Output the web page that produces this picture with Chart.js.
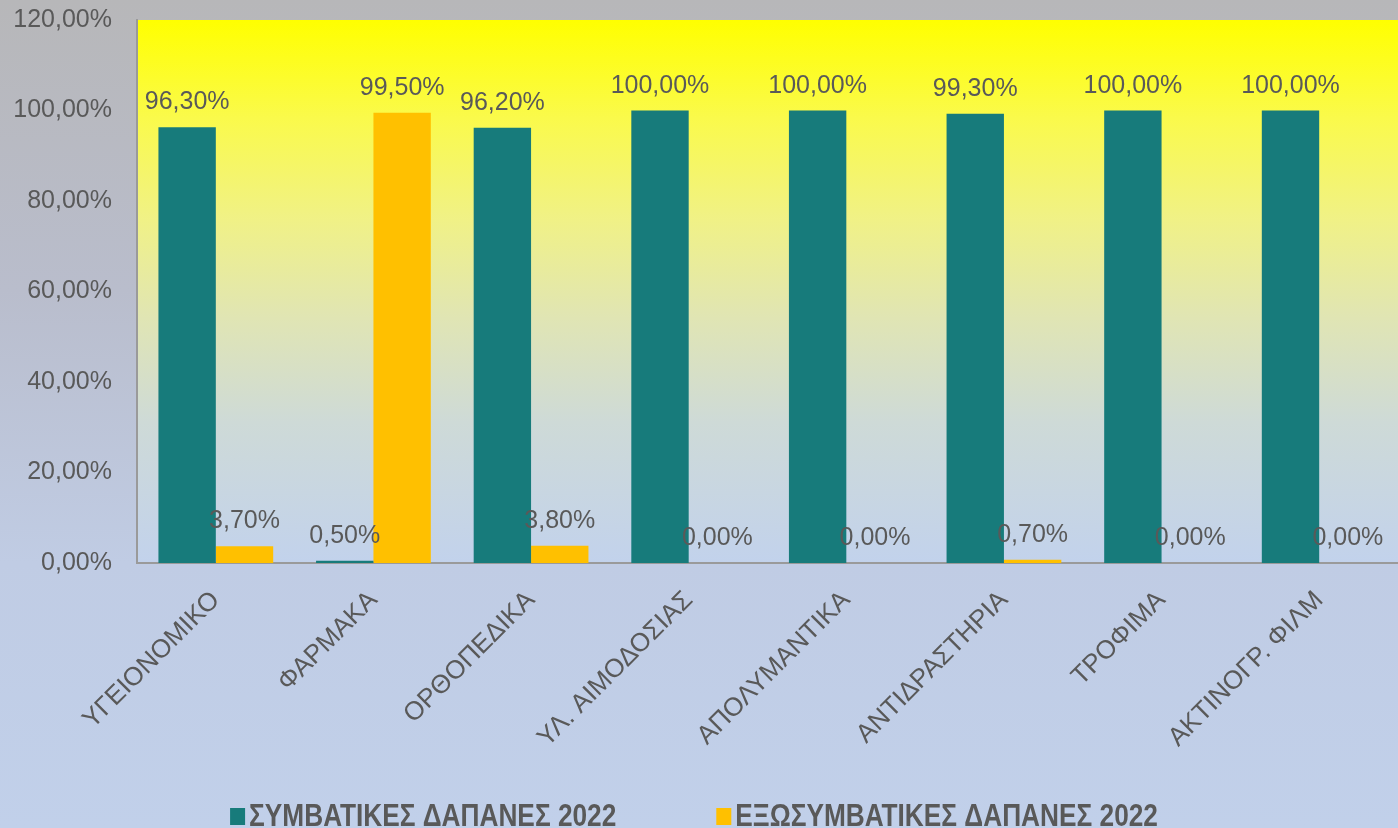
<!DOCTYPE html>
<html>
<head>
<meta charset="utf-8">
<script src="https://cdn.jsdelivr.net/npm/chart.js@4.4.1/dist/chart.umd.min.js"></script>
<style>
  html, body { margin: 0; padding: 0; width: 1398px; height: 828px; overflow: hidden; background: #c1d0ea; }
  #wrap { position: relative; width: 1398px; height: 828px; }
</style>
</head>
<body>
<div id="wrap"><canvas id="c" width="1398" height="828"></canvas></div>
<script>
const categories = ['ΥΓΕΙΟΝΟΜΙΚΟ', 'ΦΑΡΜΑΚΑ', 'ΟΡΘΟΠΕΔΙΚΑ', 'ΥΛ. ΑΙΜΟΔΟΣΙΑΣ', 'ΑΠΟΛΥΜΑΝΤΙΚΑ', 'ΑΝΤΙΔΡΑΣΤΗΡΙΑ', 'ΤΡΟΦΙΜΑ', 'ΑΚΤΙΝΟΓΡ. ΦΙΛΜ'];
const seriesNames = ['ΣΥΜΒΑΤΙΚΕΣ ΔΑΠΑΝΕΣ 2022', 'ΕΞΩΣΥΜΒΑΤΙΚΕΣ ΔΑΠΑΝΕΣ 2022'];
const contractValues = [96.3, 0.5, 96.2, 100, 100, 99.3, 100, 100];
const nonContractValues = [3.7, 99.5, 3.8, 0, 0, 0.7, 0, 0];
const yTicks = [0, 20, 40, 60, 80, 100, 120];

const TEXT = '#595959';
const FONT = "'Liberation Sans', Arial, sans-serif";
const fmt = v => v.toFixed(2).replace('.', ',') + '%';

const bgPlugin = {
  id: 'bg',
  beforeDraw(chart) {
    const ctx = chart.ctx, w = chart.width, h = chart.height;
    ctx.save();
    const g = ctx.createLinearGradient(0, 0, 0, h);
    g.addColorStop(0, '#b7b7b9');
    g.addColorStop(0.35, '#b9bdcc');
    g.addColorStop(0.68, '#c0cce4');
    g.addColorStop(1, '#c1d0ea');
    ctx.fillStyle = g;
    ctx.fillRect(0, 0, w, h);
    const a = chart.chartArea;
    const g2 = ctx.createLinearGradient(0, a.top, 0, a.bottom);
    g2.addColorStop(0, 'rgb(255,255,0)');
    g2.addColorStop(0.18, 'rgb(250,250,75)');
    g2.addColorStop(0.37, 'rgb(240,241,135)');
    g2.addColorStop(0.55, 'rgb(224,229,180)');
    g2.addColorStop(0.74, 'rgb(206,218,215)');
    g2.addColorStop(1, 'rgb(194,210,236)');
    ctx.fillStyle = g2;
    ctx.fillRect(a.left, a.top, a.right - a.left, a.bottom - a.top);
    ctx.restore();
  }
};

const labelPlugin = {
  id: 'vlabels',
  afterDatasetsDraw(chart) {
    const ctx = chart.ctx;
    ctx.save();
    ctx.font = '25px ' + FONT;
    ctx.fillStyle = TEXT;
    ctx.textAlign = 'center';
    ctx.textBaseline = 'alphabetic';
    chart.data.datasets.forEach((ds, di) => {
      const meta = chart.getDatasetMeta(di);
      meta.data.forEach((bar, i) => {
        ctx.fillText(fmt(ds.data[i]), bar.x, bar.y - 18);
      });
    });
    ctx.restore();
  }
};

// Legend drawn from the dataset labels and colours (condensed bold text, wide gap)
const legendPlugin = {
  id: 'customLegend',
  afterDraw(chart) {
    const ctx = chart.ctx;
    const sx = 0.82, gap = 100, boxW = 15, boxH = 17, boxGap = 4;
    ctx.save();
    ctx.font = 'bold 32px ' + FONT;
    const items = chart.data.datasets.map(ds => {
      const tw = ctx.measureText(ds.label).width * sx;
      return { ds, tw, w: boxW + boxGap + tw };
    });
    const total = items.reduce((s, it) => s + it.w, 0) + gap * (items.length - 1);
    let x = chart.width / 2 - 5 - total / 2;
    const baseY = 826;
    items.forEach(it => {
      ctx.fillStyle = it.ds.backgroundColor;
      ctx.fillRect(x, baseY - boxH - 1, boxW, boxH);
      ctx.save();
      ctx.translate(x + boxW + boxGap, baseY);
      ctx.scale(sx, 1);
      ctx.fillStyle = TEXT;
      ctx.textAlign = 'left';
      ctx.textBaseline = 'alphabetic';
      ctx.fillText(it.ds.label, 0, 0);
      ctx.restore();
      x += it.w + gap;
    });
    ctx.restore();
  }
};

new Chart(document.getElementById('c'), {
  type: 'bar',
  data: {
    labels: categories,
    datasets: [
      { label: seriesNames[0], data: contractValues, backgroundColor: '#177b7b', borderWidth: 0 },
      { label: seriesNames[1], data: nonContractValues, backgroundColor: '#ffc000', borderWidth: 0 }
    ]
  },
  options: {
    responsive: false,
    animation: false,
    devicePixelRatio: 1,
    layout: { padding: { top: 20, right: 0, left: 0, bottom: 0 } },
    datasets: { bar: { categoryPercentage: 0.728, barPercentage: 1 } },
    scales: {
      x: {
        grid: { display: false, drawTicks: false },
        border: { display: true, color: '#9a9a9a', width: 2 },
        ticks: {
          color: TEXT, font: { family: FONT, size: 26 },
          maxRotation: 45, minRotation: 45, autoSkip: false, padding: 22
        },
        afterFit(scale) { scale.height = 265; }
      },
      y: {
        min: 0, max: 120,
        afterBuildTicks(scale) { scale.ticks = yTicks.map(v => ({ value: v })); },
        grid: { display: false, drawTicks: false },
        border: { display: true, color: '#9a9a9a', width: 2 },
        ticks: { color: TEXT, font: { family: FONT, size: 25 }, padding: 25, callback: v => fmt(v) },
        afterFit(scale) { scale.width = 137; scale.paddingTop = 0; scale.paddingBottom = 0; }
      }
    },
    plugins: {
      legend: { display: false },
      tooltip: { enabled: false }
    }
  },
  plugins: [bgPlugin, labelPlugin, legendPlugin]
});
</script>
</body>
</html>
